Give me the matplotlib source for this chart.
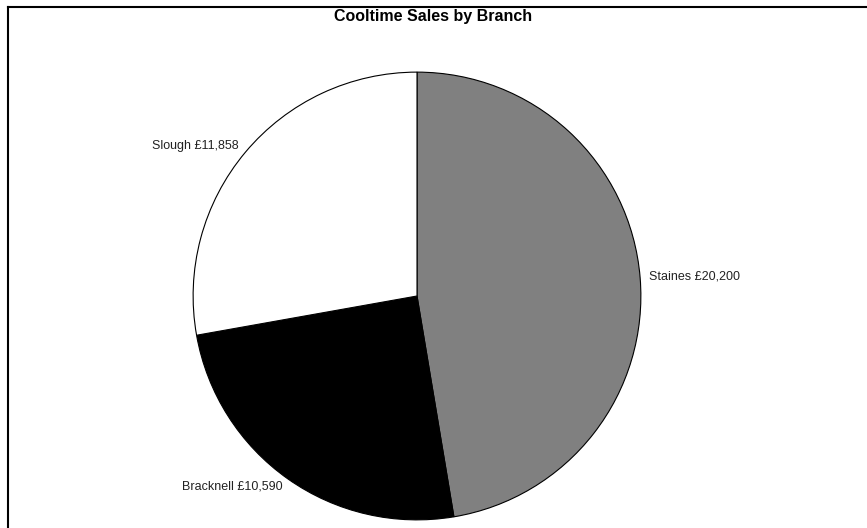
import matplotlib
matplotlib.use("Agg")
import matplotlib.pyplot as plt
from matplotlib.lines import Line2D

branches = ["Staines", "Bracknell", "Slough"]
sales = [20200, 10590, 11858]
colors = ["#808080", "#000000", "#ffffff"]

plt.rcParams['font.family'] = ['Liberation Sans', 'DejaVu Sans']

fig = plt.figure(figsize=(8.67, 5.28), dpi=100)
fig.patch.set_facecolor("white")

# frame lines (top and left)
fig.add_artist(Line2D([8/867, 1], [1 - 6.5/528, 1 - 6.5/528], transform=fig.transFigure, color="black", lw=1.5))
fig.add_artist(Line2D([8/867, 8/867], [0, 1 - 6.5/528], transform=fig.transFigure, color="black", lw=1.5))

ax = fig.add_axes([(417 - 225) / 867, (528 - 296 - 225) / 528, 450 / 867, 450 / 528])
labels = [f"{b} £{v:,}" for b, v in zip(branches, sales)]
wedges, texts = ax.pie(sales, labels=labels, colors=colors, startangle=90, counterclock=False,
                       wedgeprops=dict(edgecolor="black", linewidth=0.8),
                       labeldistance=1.04, textprops=dict(fontsize=9, color="#222222"))
ax.set_xlim(-1.005, 1.005)
ax.set_ylim(-1.005, 1.005)
ax.set_aspect("equal")
ax.axis("off")

fig.text(433 / 867, 1 - 17 / 528, "Cooltime Sales by Branch", ha="center", va="center",
         fontsize=11.5, fontweight="bold")

fig.savefig("out.png", dpi=100)
